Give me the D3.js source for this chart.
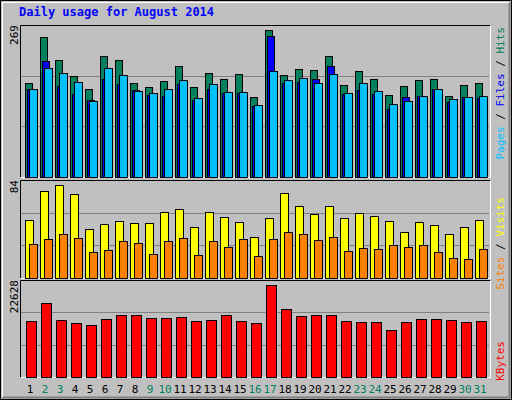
<!DOCTYPE html>
<html>
<head>
<meta charset="utf-8">
<script src="https://cdn.jsdelivr.net/npm/d3@7"></script>
<style>
  body { margin: 0; background: #fff; }
  text { font-family: "DejaVu Sans Mono", monospace; }
</style>
</head>
<body>
<svg id="chart" width="512" height="400"></svg>
<script>
// daily values
const days = d3.range(1, 32);
const weekendDays = [2, 3, 9, 10, 16, 17, 23, 24, 30, 31];
const hits  = [171,255,213,183,160,220,213,171,163,174,202,163,189,178,187,145,269,185,196,194,220,167,193,178,150,165,176,178,147,167,172];
const files = [160,212,166,151,140,178,169,158,149,147,169,140,161,153,153,129,257,171,173,178,202,151,158,151,124,145,147,160,136,145,143];
const pages = [161,198,189,173,138,198,185,156,152,160,176,143,169,154,154,130,193,176,180,172,187,152,172,156,132,138,147,161,141,145,147];
const visits = [52,78,84,75,44,48,51,49,49,59,62,46,59,55,50,37,54,76,65,57,65,54,58,56,51,41,50,47,39,46,52];
const sites  = [30,35,39,36,23,25,33,31,21,33,36,20,33,28,35,19,35,41,39,34,37,24,27,26,29,28,29,23,18,17,26];
const kbytes = [13695,18150,13943,13200,12705,14190,15180,15180,14438,14438,14685,13695,13943,15180,13695,13200,22628,16665,14933,15180,15180,13695,13448,13448,11468,13448,14190,14190,13943,13448,13695];

const svg = d3.select('#chart');
const bg = '#c0c0c0';

// outer frame
svg.append('rect').attr('width', 512).attr('height', 400).attr('fill', bg);
svg.append('rect').attr('x', 0.5).attr('y', 0.5).attr('width', 511).attr('height', 399)
  .attr('fill', 'none').attr('stroke', 'black');
svg.append('path').attr('d', 'M2.5,397.5V2.5H509.5').attr('fill', 'none').attr('stroke', 'white');
svg.append('path').attr('d', 'M2.5,397.5H509.5V2.5').attr('fill', 'none').attr('stroke', '#808080').attr('stroke-width', 2);

svg.append('text').attr('x', 19).attr('y', 16)
  .attr('fill', '#0000ff').attr('font-size', 12).attr('font-weight', 'bold')
  .text('Daily usage for August 2014');

const x = d3.scaleBand().domain(days).range([22, 487]);

const panels = [
  { top: 25, bottom: 177, max: 269, label: '269' },
  { top: 180, bottom: 278, max: 84, label: '84' },
  { top: 280, bottom: 377, max: 22628, label: '22628' }
];

panels.forEach(p => {
  p.y = d3.scaleLinear().domain([0, p.max]).range([p.bottom - 0.5, p.top + 4.5]);
  const h = p.bottom - p.top;
  [1 / 3, 2 / 3].forEach(f => {
    svg.append('line').attr('x1', 21).attr('x2', 489)
      .attr('y1', Math.round(p.bottom - h * f) + 0.5).attr('y2', Math.round(p.bottom - h * f) + 0.5)
      .attr('stroke', '#808080');
  });
  svg.append('path').attr('d', `M20.5,${p.bottom + 0.5}V${p.top + 0.5}H490.5`)
    .attr('fill', 'none').attr('stroke', 'black');
  svg.append('path').attr('d', `M20.5,${p.bottom + 0.5}H490.5V${p.top + 0.5}`)
    .attr('fill', 'none').attr('stroke', 'white');
  svg.append('text').attr('transform', `translate(18,${p.top}) rotate(-90)`)
    .attr('text-anchor', 'end').attr('font-size', 11).attr('fill', 'black').text(p.label);
});

function bars(vals, panel, dx, w, color) {
  svg.append('g').selectAll('rect')
    .data(vals)
    .enter().append('rect')
    .attr('x', (d, i) => x(days[i]) + dx + 0.5)
    .attr('y', d => Math.round(panel.y(d)) + 0.5)
    .attr('width', w)
    .attr('height', d => Math.round(panel.y(0)) - Math.round(panel.y(d)))
    .attr('fill', color)
    .attr('stroke', 'black');
}

bars(hits, panels[0], 3, 7, '#00805c');
bars(files, panels[0], 5, 7, '#0000ff');
bars(pages, panels[0], 7, 8, '#00c0ff');
bars(visits, panels[1], 3, 8, '#ffff00');
bars(sites, panels[1], 7, 8, '#ff8000');
bars(kbytes, panels[2], 4, 10, '#ff0000');

// day labels
svg.append('g').selectAll('text')
  .data(days)
  .enter().append('text')
  .attr('x', d => x(d) + 8)
  .attr('y', 393)
  .attr('text-anchor', 'middle')
  .attr('font-size', 11)
  .attr('fill', d => weekendDays.includes(d) ? '#00805c' : 'black')
  .text(d => d);

// right side legends
function legend(parts, top) {
  const t = svg.append('text').attr('transform', `translate(504,${top}) rotate(-90)`)
    .attr('text-anchor', 'end').attr('font-size', 11);
  parts.forEach(([s, c]) => t.append('tspan').attr('fill', c).text(s));
}
legend([['Pages', '#00c0ff'], [' / ', 'black'], ['Files', '#0000ff'], [' / ', 'black'], ['Hits', '#00805c']], 27);
legend([['Sites', '#ff8000'], [' / ', 'black'], ['Visits', '#ffff00']], 197);
legend([['KBytes', '#ff0000']], 341);
</script>
</body>
</html>
